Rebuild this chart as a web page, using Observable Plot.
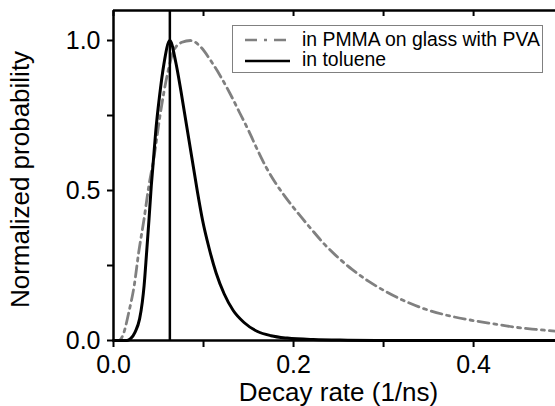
<!DOCTYPE html>
<html><head><meta charset="utf-8">
<script src="https://cdn.jsdelivr.net/npm/d3@7"></script>
<script src="https://cdn.jsdelivr.net/npm/@observablehq/plot@0.6"></script>
<style>
body{margin:0;background:#fff;font-family:"Liberation Sans",Arial,sans-serif;}
#wrap{position:relative;width:555px;height:406px;overflow:hidden;background:#fff;}
#legend{position:absolute;left:232px;top:25px;width:311px;height:48px;border:1px solid #808080;box-sizing:border-box;background:#fff;}
#legend svg{display:block;}
</style></head><body>
<div id="wrap"><div id="chart"></div><div id="legend"></div></div>
<script>
// Series: in toluene (black solid)
const tolueneX = [0, 0.015, 0.019, 0.024, 0.029, 0.032, 0.034, 0.0368, 0.0395, 0.042, 0.044, 0.047, 0.051, 0.056, 0.0626, 0.069, 0.075, 0.081, 0.087, 0.093, 0.099, 0.106, 0.114, 0.123, 0.133, 0.145, 0.16, 0.175, 0.193, 0.222, 0.26, 0.3, 0.4, 0.491];
const tolueneY = [0, 0, 0.006, 0.028, 0.072, 0.128, 0.183, 0.294, 0.406, 0.517, 0.589, 0.70, 0.811, 0.922, 1.0, 0.93, 0.83, 0.72, 0.61, 0.50, 0.40, 0.31, 0.225, 0.155, 0.10, 0.06, 0.03, 0.016, 0.008, 0.003, 0.001, 0, 0, 0];
// Series: in PMMA on glass with PVA (gray dash-dot)
const pmmaX = [0, 0.006, 0.011, 0.017, 0.023, 0.028, 0.034, 0.039, 0.045, 0.052, 0.060, 0.067, 0.076, 0.0856, 0.097, 0.108, 0.119, 0.13, 0.14, 0.15, 0.16, 0.17, 0.18, 0.19, 0.204, 0.219, 0.234, 0.250, 0.265, 0.284, 0.302, 0.321, 0.343, 0.369, 0.395, 0.421, 0.447, 0.469, 0.491];
const pmmaY = [0, 0, 0.022, 0.094, 0.183, 0.294, 0.406, 0.51, 0.611, 0.756, 0.889, 0.967, 0.994, 1.0, 0.978, 0.933, 0.88, 0.82, 0.76, 0.70, 0.635, 0.575, 0.525, 0.482, 0.428, 0.374, 0.322, 0.275, 0.237, 0.196, 0.164, 0.135, 0.108, 0.085, 0.069, 0.056, 0.044, 0.037, 0.031];
// Vertical marker
const markerX = [0.0626];
const seriesNames = ["in PMMA on glass with PVA", "in toluene"];
const xTicks = [0, 0.1, 0.2, 0.3, 0.4];
const xTickLabels = [0, 0.2, 0.4];
const yTicks = [0, 0.25, 0.5, 0.75, 1.0];
const yTickLabels = [0, 0.5, 1.0];
const xDomain = [0, 0.491];
const yDomain = [0, 1.1];
const xTitle = "Decay rate (1/ns)";
const yTitle = "Normalized probability";

const toluene = tolueneX.map((x, i) => ({x, y: tolueneY[i]}));
const pmma = pmmaX.map((x, i) => ({x, y: pmmaY[i]}));

const chart = Plot.plot({
  width: 555, height: 406,
  marginLeft: 113, marginRight: 0, marginTop: 10, marginBottom: 66,
  style: {fontFamily: '"Liberation Sans", Arial, sans-serif', fontSize: "25px", color: "#000", background: "#fff", overflow: "visible"},
  x: {domain: xDomain},
  y: {domain: yDomain},
  marks: [
    Plot.line(pmma, {x: "x", y: "y", stroke: "#808080", strokeWidth: 2.8, strokeDasharray: "11,5,3,5", curve: "monotone-x"}),
    Plot.line(toluene, {x: "x", y: "y", stroke: "#000", strokeWidth: 3, curve: "monotone-x"}),
    Plot.ruleX(markerX, {stroke: "#000", strokeWidth: 2.5}),
    Plot.ruleX([xDomain[0]], {stroke: "#000", strokeWidth: 2.5}),
    Plot.ruleY(yDomain, {stroke: "#000", strokeWidth: 2.5}),
    Plot.axisX({ticks: xTicks, tickSize: 7, tickPadding: 8, strokeWidth: 2, label: null,
      tickFormat: d => xTickLabels.includes(d) ? d.toFixed(1) : ""}),
    Plot.axisX({anchor: "top", ticks: xTicks, tickSize: 5, dy: 5, strokeWidth: 2, label: null, tickFormat: () => ""}),
    Plot.axisY({ticks: yTicks, tickSize: 6, tickPadding: 7, strokeWidth: 2, label: null,
      tickFormat: d => yTickLabels.includes(d) ? d.toFixed(1) : ""}),
    Plot.text([xTitle], {text: d => d, frameAnchor: "bottom", dx: 4, dy: 60, lineAnchor: "bottom", fontSize: 26}),
    Plot.text([yTitle], {text: d => d, frameAnchor: "left", textAnchor: "middle", dx: -84.5, dy: 4, rotate: -90, lineAnchor: "bottom", fontSize: 26})
  ]
});
document.getElementById("chart").appendChild(chart);

const lg = document.getElementById("legend");
lg.innerHTML = `<svg width="309" height="46" style="font-family:'Liberation Sans',Arial,sans-serif;font-size:19.4px">
  <line x1="12" x2="57" y1="14" y2="14" stroke="#808080" stroke-width="2.5" stroke-dasharray="12,7,3,7"/>
  <text x="69" y="20">${seriesNames[0]}</text>
  <line x1="12" x2="57" y1="35" y2="35" stroke="#000" stroke-width="2.5"/>
  <text x="69" y="40">${seriesNames[1]}</text>
</svg>`;
</script>
</body></html>
